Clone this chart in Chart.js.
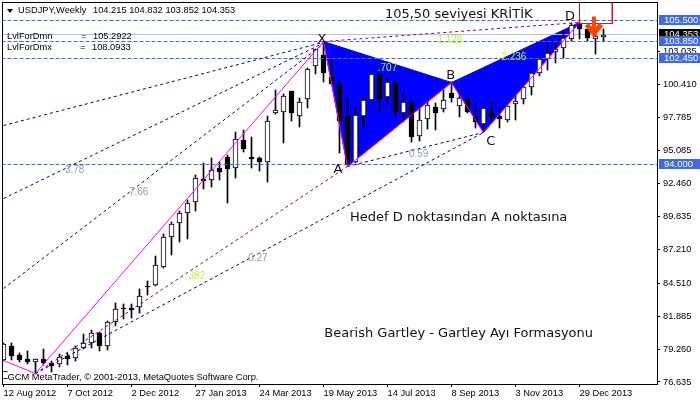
<!DOCTYPE html>
<html>
<head>
<meta charset="utf-8">
<title>USDJPY Weekly</title>
<script src="https://cdn.jsdelivr.net/npm/chart.js@4/dist/chart.umd.js"></script>
<style>
  html, body { margin: 0; padding: 0; background: #fff; }
  canvas { display: block; }
</style>
</head>
<body>
<canvas id="chart" width="700" height="402"></canvas>
<script>
// haftalik mumlar
const opens = [78.37,79.49,78.77,78.45,78.21,78.45,78.13,78.05,78.69,78.53,79.33,79.73,80.53,79.49,81.40,82.52,82.52,82.60,84.28,84.36,85.80,88.19,89.31,90.11,90.99,92.83,92.75,93.71,94.58,93.71,95.94,94.58,94.50,94.18,98.10,98.18,99.85,97.86,99.22,101.85,102.73,100.97,100.41,97.86,94.18,97.86,99.14,101.21,99.38,100.41,98.10,98.90,96.26,97.62,98.58,98.42,99.70,98.66,99.30,97.78,97.22,98.18,97.86,97.54,98.82,99.22,100.17,101.29,102.41,102.97,103.29,104.01,105.21,104.81,104.01,104.215];
const highs = [79.73,79.73,78.93,79.09,78.45,79.25,78.29,78.85,78.93,79.49,80.45,80.77,80.61,81.48,82.92,82.84,82.84,84.04,84.68,86.68,88.43,89.39,90.27,91.15,93.15,94.10,94.50,94.18,94.74,96.58,96.74,96.18,94.58,97.86,99.93,99.62,99.85,99.30,101.69,103.21,103.77,102.49,100.73,99.30,98.58,99.46,101.21,101.29,100.89,100.73,99.77,99.14,98.58,98.98,98.90,99.93,100.57,99.85,99.30,98.74,98.50,98.98,98.50,98.66,99.54,100.25,101.29,102.49,103.69,103.77,104.57,105.29,105.37,104.81,104.49,104.832];
const lows = [78.29,78.37,78.21,78.05,77.25,77.97,77.41,77.81,77.97,78.29,79.25,79.33,79.09,79.17,81.09,81.64,81.72,82.12,83.56,84.28,85.72,86.76,87.79,88.03,90.27,92.03,92.19,92.75,90.91,92.91,94.98,93.71,93.47,92.59,98.02,95.70,97.46,96.98,98.50,101.21,100.57,100.41,94.90,93.88,94.10,96.90,99.14,98.18,98.82,97.86,97.38,95.78,95.86,96.82,96.74,98.18,98.98,97.78,98.10,96.90,96.58,97.38,96.90,97.38,97.54,98.82,99.54,101.05,101.53,102.09,102.49,103.85,104.01,103.85,102.81,103.852];
const closes = [79.65,78.71,78.37,78.21,78.45,78.13,77.89,78.61,78.45,79.33,79.73,80.53,79.49,81.40,82.44,82.44,82.36,83.48,84.20,85.96,88.19,89.23,90.11,90.91,92.91,92.67,93.55,93.39,93.63,96.02,95.22,94.42,94.18,97.46,98.34,99.46,98.10,98.98,101.61,103.21,101.29,100.41,97.46,94.02,97.94,99.14,101.21,99.22,100.57,98.18,98.98,96.18,97.54,98.74,98.10,99.14,99.30,99.30,98.18,97.38,98.50,97.78,97.62,98.66,99.06,100.17,101.29,102.41,102.89,103.21,104.09,105.13,104.81,104.09,104.25,104.353];

const dateLabels = ["12 Aug 2012","7 Oct 2012","2 Dec 2012","27 Jan 2013","24 Mar 2013","19 May 2013","14 Jul 2013","8 Sep 2013","3 Nov 2013","29 Dec 2013"];
const dateBars = [0,8,16,24,32,40,48,56,64,72];
const priceTicks = [76.635,79.26,81.885,84.51,87.21,89.835,92.46,95.085,97.785,100.41,103.035];
const levels = [105.5,103.85,102.45,94.0];
const lastPrice = 104.353;

// Gartley noktalari: baslangic, 0, X, A, B, C, D
const zigzagBars = [0,4,40,43,56,60,72];
const zigzagPrices = [78.37,77.33,103.85,93.86,100.57,96.58,105.37];

const fanBars = [0,39.9];
const fan1 = [97.14,103.72];
const fan2 = [91.31,103.66];
const fan3 = [84.12,103.6];
// sol altta gorunen kisa parcalar
const stubBars = [0,0.5];
const stub1 = [77.45,77.45];
const stub2 = [76.95,76.95];

// hedef kutusu: LvlForDmn - LvlForDmx
const boxBars = [72,72,76.1,76.1,72];
const boxPrices = [105.2922,108.0933,108.0933,105.2922,105.2922];

const arrowShaftBars = [73.8,73.8];
const arrowShaftPrices = [105.85,104.75];
const arrowHeadBars = [72.9,73.8,74.7];
const arrowHeadPrices = [105.2,104.5,105.2];

const chartLabels = [
  { text: "X", bar: 39.8, price: 104.0, kind: "big" },
  { text: "A", bar: 41.8, price: 93.63, kind: "big" },
  { text: "B", bar: 55.9, price: 101.13, kind: "big" },
  { text: "C", bar: 60.9, price: 95.86, kind: "big" },
  { text: "D", bar: 70.8, price: 105.77, kind: "big" },
  { text: "3.78", bar: 8.9, price: 93.55, kind: "grey" },
  { text: "7.66", bar: 16.9, price: 91.79, kind: "grey" },
  { text: "0.27", bar: 31.8, price: 86.5, kind: "grey" },
  { text: "0.59", bar: 51.9, price: 94.82, kind: "grey" },
  { text: ".382", bar: 24, price: 85.1, kind: "green" },
  { text: ".707", bar: 48, price: 101.7, kind: "green" },
  { text: "1.128", bar: 55.8, price: 103.93, kind: "green" },
  { text: "2.236", bar: 63.8, price: 102.57, kind: "green" },
  { text: "105,50 seviyesi KRİTİK", bar: 56.9, price: 105.93, kind: "big" },
  { text: "Hedef D noktasından A noktasına", bar: 56.9, price: 89.75, kind: "big" },
  { text: "Bearish Gartley - Gartley Ayı Formasyonu", bar: 56.9, price: 80.48, kind: "big" }
];

const UI_FONT = "Liberation Sans";
const BIG_FONT = "DejaVu Sans";

function xy(bars, prices) {
  return bars.map((b, i) => ({ x: b, y: prices[i] }));
}

function lineSet(points, color, opts) {
  return Object.assign({
    type: "line",
    data: points,
    borderColor: color,
    borderWidth: 1,
    pointRadius: 0,
    tension: 0,
    fill: false,
    order: 2
  }, opts);
}

const DASH = [3, 3];
const X = 2, A = 3, B = 4, C = 5, D = 6;
const pivot = i => ({ x: zigzagBars[i], y: zigzagPrices[i] });
const barIndex = opens.map((v, i) => i);

const datasets = [
  // mavi ucgenler, mumlarin arkasinda
  lineSet([pivot(X), pivot(B)], "#0000ff", { backgroundColor: "#0000ff", fill: "+1", order: 9 }),
  lineSet([pivot(X), pivot(A), pivot(B)], "#0000ff", { order: 9 }),
  lineSet([pivot(B), pivot(D)], "#0000ff", { backgroundColor: "#0000ff", fill: "+1", order: 9 }),
  lineSet([pivot(B), pivot(C), pivot(D)], "#0000ff", { order: 9 }),
  {
    label: "wick",
    data: barIndex.map(i => ({ x: i, y: [lows[i], highs[i]] })),
    backgroundColor: "#000",
    barThickness: 1,
    grouped: false,
    order: 6
  },
  {
    label: "body",
    data: barIndex.map(i => ({ x: i, y: [opens[i], closes[i]] })),
    backgroundColor: barIndex.map(i => closes[i] >= opens[i] ? "#fff" : "#000"),
    borderColor: "#000",
    borderWidth: 1,
    borderSkipped: false,
    barThickness: 5,
    grouped: false,
    order: 5
  },
  lineSet([{ x: -1, y: lastPrice }, { x: 90, y: lastPrice }], "#c0c0c0", { order: 7 })
];

levels.forEach(v => {
  datasets.push(lineSet([{ x: -1, y: v }, { x: 90, y: v }], "#4169e1", { borderDash: [4, 2], order: 4 }));
});
[fan1, fan2, fan3].forEach(f => {
  datasets.push(lineSet(xy(fanBars, f), "#000080", { borderDash: DASH }));
});
datasets.push(lineSet([pivot(1), pivot(C)], "#000080", { borderDash: DASH }));
datasets.push(lineSet([pivot(A), pivot(C)], "#000080", { borderDash: DASH }));
datasets.push(lineSet([pivot(1), pivot(A)], "#800080", { borderDash: DASH }));
datasets.push(lineSet([pivot(X), pivot(D)], "#800080", { borderDash: DASH }));
datasets.push(lineSet(xy(stubBars, stub1), "#000080"));
datasets.push(lineSet(xy(stubBars, stub2), "#000080"));
datasets.push(lineSet(xy(zigzagBars, zigzagPrices), "#ff00ff", { order: 1 }));
datasets.push(lineSet(xy(boxBars, boxPrices), "#e01010", { order: 1 }));
datasets.push(lineSet(xy(arrowShaftBars, arrowShaftPrices), "#ff4500", { borderWidth: 4, order: 0 }));
datasets.push(lineSet(xy(arrowHeadBars, arrowHeadPrices), "#ff4500", { borderWidth: 5, order: 0 }));

// terminal gorunumu icin mum ve cizgileri piksele oturt
const snapPlugin = {
  id: "snap",
  afterDatasetsUpdate(chart) {
    chart.data.datasets.forEach((ds, i) => {
      const meta = chart.getDatasetMeta(i);
      meta.data.forEach(el => {
        if (meta.type === "bar") {
          el.y = Math.round(el.y);
          el.base = Math.round(el.base);
          if (el.y === el.base) el.base += 1;
        } else {
          el.y = Math.floor(el.y) + 0.5;
        }
      });
    });
  }
};

const labelPlugin = {
  id: "labels",
  afterDatasetsDraw(chart) {
    const { ctx, scales } = chart;
    ctx.save();
    ctx.textAlign = "center";
    ctx.textBaseline = "middle";
    chartLabels.forEach(l => {
      if (l.kind === "big") {
        ctx.font = "13px '" + BIG_FONT + "'";
        ctx.fillStyle = "#111";
      } else {
        ctx.font = "10px '" + UI_FONT + "'";
        ctx.fillStyle = l.kind === "grey" ? "#8fa0b0" : "#adff2f";
      }
      ctx.fillText(l.text, scales.x.getPixelForValue(l.bar), scales.y.getPixelForValue(l.price));
    });
    ctx.restore();
  },
  afterDraw(chart) {
    const { ctx, scales } = chart;
    ctx.save();
    // cerceve
    ctx.strokeStyle = "#000";
    ctx.lineWidth = 1;
    ctx.strokeRect(2.5, 2.5, 655, 382);

    // sag fiyat etiketleri
    ctx.textBaseline = "middle";
    ctx.textAlign = "left";
    ctx.font = "9.5px '" + UI_FONT + "'";
    const tag = (v, bg) => {
      const y = Math.floor(scales.y.getPixelForValue(v));
      ctx.fillStyle = bg;
      ctx.fillRect(659, y - 5, 41, 10);
      ctx.fillStyle = "#fff";
      ctx.fillText(v.toFixed(3), 664, y);
    };
    tag(lastPrice, "#000");
    levels.forEach(v => tag(v, "#4169e1"));

    // baslik
    ctx.fillStyle = "#000";
    ctx.beginPath();
    ctx.moveTo(7, 9);
    ctx.lineTo(13, 9);
    ctx.lineTo(10, 13);
    ctx.closePath();
    ctx.fill();
    ctx.font = "9.3px '" + UI_FONT + "'";
    ctx.fillText("USDJPY,Weekly", 18, 10.5);
    ctx.fillText("104.215 104.832 103.852 104.353", 93, 10.5);
    ctx.fillText("LvlForDmn", 7, 36);
    ctx.fillText("=", 81, 36);
    ctx.fillText("105.2922", 93, 36);
    ctx.fillText("LvlForDmx", 7, 47.5);
    ctx.fillText("=", 80, 47.5);
    ctx.fillText("108.0933", 92, 47.5);
    ctx.fillText("GCM MetaTrader, © 2001-2013, MetaQuotes Software Corp.", 7.5, 377);
    ctx.restore();
  }
};

const noMargins = s => {
  s.paddingLeft = s.paddingRight = s.paddingTop = s.paddingBottom = 0;
};

new Chart(document.getElementById("chart"), {
  type: "bar",
  data: { datasets },
  plugins: [snapPlugin, labelPlugin],
  options: {
    responsive: false,
    animation: false,
    layout: { padding: { left: 3, top: 2, right: 0, bottom: 0 } },
    plugins: { legend: { display: false }, tooltip: { enabled: false } },
    scales: {
      x: {
        type: "linear",
        offset: false,
        min: -0.0625,
        max: 81.6875,
        afterBuildTicks: s => { s.ticks = dateBars.map(v => ({ value: v })); },
        afterFit: s => { s.height = 18; noMargins(s); },
        border: { display: false },
        grid: { drawOnChartArea: false, color: "#000", tickLength: 3, offset: false },
        ticks: {
          autoSkip: false,
          maxRotation: 0,
          align: "start",
          padding: 1,
          color: "#000",
          font: { family: UI_FONT, size: 9.3 },
          callback: (v, i) => dateLabels[i]
        }
      },
      y: {
        position: "right",
        min: 76.471,
        max: 106.977,
        afterBuildTicks: s => { s.ticks = priceTicks.map(v => ({ value: v })); },
        afterFit: s => { s.width = 43; noMargins(s); },
        border: { display: false },
        grid: { drawOnChartArea: false, color: "#000", tickLength: 3 },
        ticks: {
          autoSkip: false,
          padding: 3,
          color: "#000",
          font: { family: UI_FONT, size: 9.3 },
          callback: v => v.toFixed(3)
        }
      }
    }
  }
});
</script>
</body>
</html>
